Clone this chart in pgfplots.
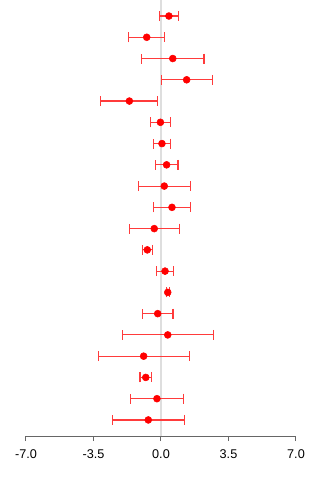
\documentclass[border=0pt]{standalone}
\usepackage{pgfplots}
\pgfplotsset{compat=1.18}
\usepackage{fontspec}
\setmainfont{Liberation Sans}

% estimate, row position (top = 20), symmetric half-width of interval
\pgfplotstableread{
x      y   e
0.41   20  0.50
-0.74  19  0.93
0.61   18  1.62
1.33   17  1.32
-1.64  16  1.48
-0.03  15  0.51
0.05   14  0.46
0.29   13  0.59
0.17   12  1.34
0.57   11  0.96
-0.35  10  1.30
-0.71  9   0.26
0.21   8   0.43
0.35   7   0.08
-0.17  6   0.79
0.35   5   2.36
-0.90  4   2.36
-0.79  3   0.30
-0.21  2   1.38
-0.66  1   1.87
}\estimates

\definecolor{barred}{HTML}{FF3B3B}

\begin{document}
\begin{tikzpicture}
\begin{axis}[
  at={(0,0)}, anchor=south west,
  scale only axis, width=202.5pt, height=327pt,
  xmin=-7, xmax=7, ymin=0.245, ymax=20.753,
  axis x line=bottom, axis y line=none,
  axis line style={-, draw=black!60, line width=0.75pt},
  xtick={-7,-3.5,0,3.5,7},
  xticklabels={-7.0,-3.5,0.0,3.5,7.0},
  tick align=outside, major tick length=3.75pt,
  xtick style={draw=black!60, line width=0.75pt},
  ticklabel style={font=\fontsize{9.5}{11}\selectfont},
  xticklabel style={yshift=-3pt},
  clip=false,
]
% reference line at zero
\addplot[draw=black!13, line width=1.5pt] coordinates {(0,0.245) (0,20.753)};
% estimates with intervals
\addplot[only marks, mark=*, mark size=2.6pt, color=red,
  error bars/.cd, x dir=both, x explicit, error mark=|,
  error bar style={color=barred, line width=0.85pt},
  error mark options={color=barred, line width=0.85pt, mark size=3.75pt}]
  table[x=x, y=y, x error=e]{\estimates};
\end{axis}
\pgfresetboundingbox
\path (-19.5pt,-33pt) rectangle (220.5pt,327pt);
\end{tikzpicture}
\end{document}
